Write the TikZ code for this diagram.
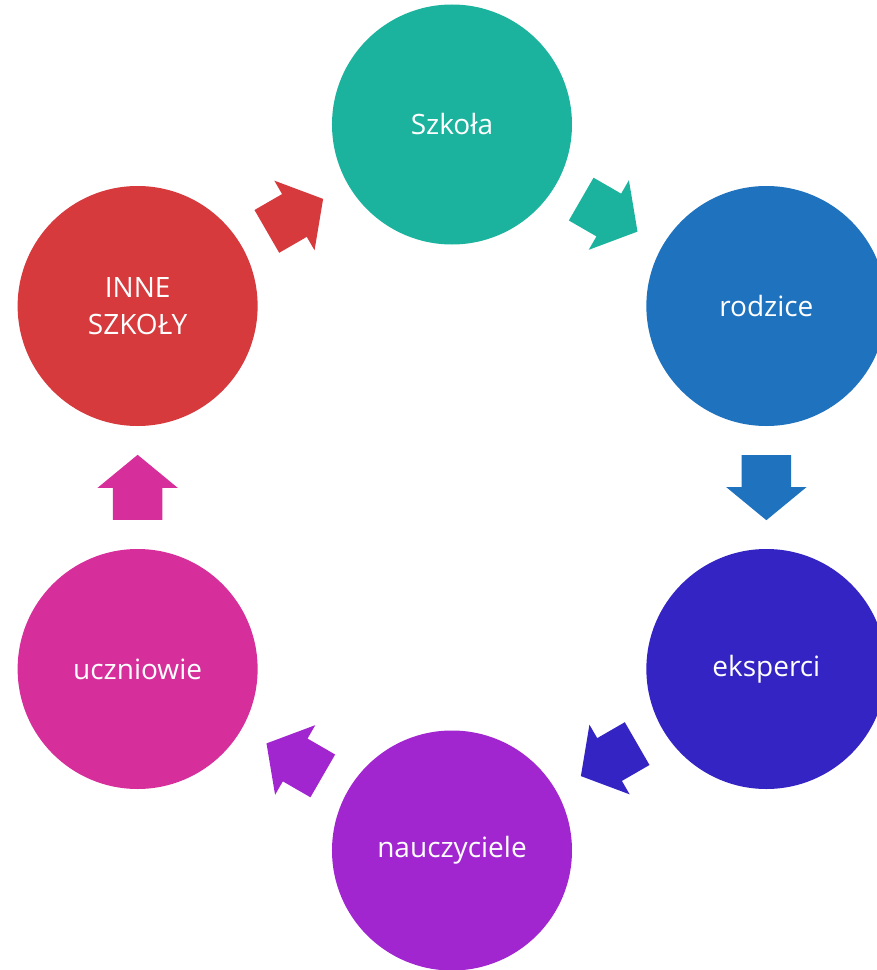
\documentclass[tikz,border=0pt]{standalone}
\usepackage{fontspec}
\setmainfont{Open Sans}
\usetikzlibrary{calc, positioning, shapes.arrows}

\definecolor{cteal}{HTML}{1BB39E}
\definecolor{cblue}{HTML}{1F72BE}
\definecolor{cindigo}{HTML}{3424C3}
\definecolor{cviolet}{HTML}{A126CF}
\definecolor{cpink}{HTML}{D62F9B}
\definecolor{cred}{HTML}{D63A3D}

\tikzset{
    circ/.style={circle, minimum size=240pt, inner sep=0pt, text=white, align=center,
        font=\fontsize{28}{37}\selectfont},
    arr/.style={single arrow, anchor=tail, minimum height=65pt, inner xsep=0pt, inner ysep=24.5pt,
        single arrow head extend=15.5pt, single arrow tip angle=101}
}

\begin{document}
\begin{tikzpicture}[x=1pt, y=1pt]
                    \useasboundingbox (-452,-482.5) rectangle (425,487.5);

                    \node[circ, fill=cteal] (1) at (90:363) {Szkoła};
                    \node[circ, fill=cblue] (2) at (30:363) {rodzice};
                    \node[circ, fill=cindigo] (3) at (-30:363) {eksperci};
                    \node[circ, fill=cviolet] (4) at (-90:363) {nauczyciele};
                    \node[circ, fill=cpink] (5) at (-150:363) {uczniowie};
                    \node[circ, fill=cred] (6) at (150:363) {INNE\\SZKOŁY};

                    % tail of each arrow sits half a length before the midpoint
                    \node[arr, fill=cteal, rotate=-30] (12) at ($(1)!0.5!(2)!32.5pt!(1)$) {};
                    \node[arr, fill=cblue, rotate=-90] (23) at ($(2)!0.5!(3)!32.5pt!(2)$) {};
                    \node[arr, fill=cindigo, rotate=-150] (34) at ($(3)!0.5!(4)!32.5pt!(3)$) {};
                    \node[arr, fill=cviolet, rotate=150] (45) at ($(4)!0.5!(5)!32.5pt!(4)$) {};
                    \node[arr, fill=cpink, rotate=90] (56) at ($(5)!0.5!(6)!32.5pt!(5)$) {};
                    \node[arr, fill=cred, rotate=30] (61) at ($(6)!0.5!(1)!32.5pt!(6)$) {};
                \end{tikzpicture}
\end{document}
